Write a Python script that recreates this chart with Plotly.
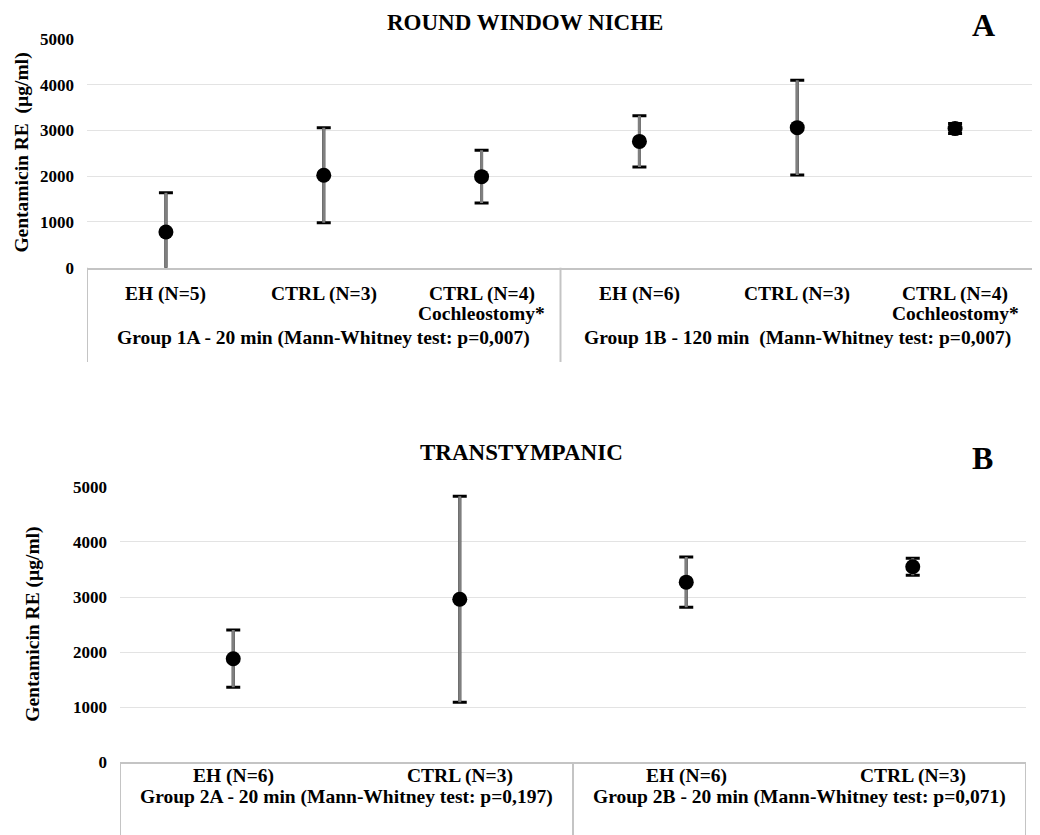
import plotly.graph_objects as go

# ---------------- data ----------------
# Panel A: Round window niche
a_categories = ["EH (N=5)", "CTRL (N=3)", "CTRL (N=4)", "EH (N=6)", "CTRL (N=3)", "CTRL (N=4)"]
a_sublabels = ["", "", "Cochleostomy*", "", "", "Cochleostomy*"]
a_groups = ["Group 1A - 20 min (Mann-Whitney test: p=0,007)",
            "Group 1B - 120 min  (Mann-Whitney test: p=0,007)"]
a_group_index = [0, 0, 0, 1, 1, 1]
a_mean = [780, 2020, 1990, 2760, 3060, 3040]
a_sd = [860, 1040, 575, 560, 1035, 110]

# Panel B: Transtympanic
b_categories = ["EH (N=6)", "CTRL (N=3)", "EH (N=6)", "CTRL (N=3)"]
b_groups = ["Group 2A - 20 min (Mann-Whitney test: p=0,197)",
            "Group 2B - 20 min (Mann-Whitney test: p=0,071)"]
b_group_index = [0, 0, 1, 1]
b_mean = [1880, 2960, 3270, 3550]
b_sd = [520, 1870, 455, 155]

y_ticks = [0, 1000, 2000, 3000, 4000, 5000]

# ---------------- styling ----------------
SERIF = "Liberation Serif, Times New Roman, serif"
GRID = "#e3e3e3"
FRAME = "#c4c4c4"
STEM = "#7f7f7f"

fig = go.Figure()


def add_panel(xa, ya, cats, mean, sd, cap):
    xs = list(range(len(cats)))
    # black caps
    fig.add_trace(go.Scatter(
        x=xs, y=mean, mode="markers", xaxis=xa, yaxis=ya,
        marker=dict(color="rgba(0,0,0,0)", size=1),
        error_y=dict(type="data", array=sd, color="black", thickness=3, width=cap),
        showlegend=False, hoverinfo="skip"))
    # gray stems + markers
    fig.add_trace(go.Scatter(
        x=xs, y=mean, mode="markers", xaxis=xa, yaxis=ya,
        marker=dict(color="black", size=15, symbol="circle"),
        error_y=dict(type="data", array=sd, color=STEM, thickness=3, width=0),
        showlegend=False))


add_panel("x", "y", a_categories, a_mean, a_sd, 7)
add_panel("x2", "y2", b_categories, b_mean, b_sd, 7)

# The page body keeps an 8px margin.
OFF = 8
W, H = 1032, 840
VS, VO = 0.978, 8.0   # observed vertical mapping of the photographed page


def px_x(p):
    return (p - OFF) / W


def px_y(p):
    page = (p - VO) / VS
    return 1 - (page - OFF) / H


axis_common = dict(showgrid=False, zeroline=False, showticklabels=False,
                   ticks="", fixedrange=True)
yaxis_common = dict(tickvals=y_ticks, ticktext=[str(v) for v in y_ticks],
                    showgrid=True, gridcolor=GRID, gridwidth=1.3,
                    zeroline=False, showline=False, ticks="",
                    tickfont=dict(family=SERIF, size=17, color="black", weight="bold"),
                    ticklabelstandoff=12, range=[0, 5000])

A_BOTTOM, A_TOP = 266.7, 37.7
B_BOTTOM, B_TOP = 761.5, 486

fig.update_layout(
    width=W, height=H,
    margin=dict(l=0, r=0, t=0, b=0),
    paper_bgcolor="white", plot_bgcolor="white",
    xaxis=dict(domain=[px_x(87), px_x(1034)], range=[-0.5, len(a_categories) - 0.5],
               anchor="y", showline=True, linecolor=FRAME, linewidth=2, **axis_common),
    yaxis=dict(domain=[px_y(A_BOTTOM), px_y(A_TOP)], anchor="x", **yaxis_common),
    xaxis2=dict(domain=[px_x(120), px_x(1026)], range=[-0.5, len(b_categories) - 0.5],
                anchor="y2", showline=True, linecolor=FRAME, linewidth=2, **axis_common),
    yaxis2=dict(domain=[px_y(B_BOTTOM), px_y(B_TOP)], anchor="x2", **yaxis_common),
)

lab_font = dict(family=SERIF, size=19.5, color="black", weight="bold")
annotations = []
shapes = []


def ann(x, y, text, font, xref="paper", textangle=0):
    annotations.append(dict(x=x, y=y, xref=xref, yref="paper", text=text,
                            showarrow=False, font=font, xanchor="center",
                            yanchor="middle", textangle=textangle))


def table(xref, cats, subs, groups, gidx, y_axis_px, y_cat, y_sub, y_grp, y_line_bottom):
    for i, c in enumerate(cats):
        ann(i, px_y(y_cat), c, lab_font, xref=xref)
        if subs and subs[i]:
            ann(i, px_y(y_sub), subs[i], lab_font, xref=xref)
    for g, gl in enumerate(groups):
        members = [i for i, k in enumerate(gidx) if k == g]
        ann(sum(members) / len(members), px_y(y_grp), gl, lab_font, xref=xref)
    bounds = [-0.5]
    for g in range(len(groups)):
        members = [i for i, k in enumerate(gidx) if k == g]
        bounds.append(max(members) + 0.5)
    for b in bounds:
        shapes.append(dict(type="line", xref=xref, yref="paper", x0=b, x1=b,
                           y0=px_y(y_axis_px), y1=max(px_y(y_line_bottom), 0),
                           line=dict(color=FRAME, width=2)))


table("x", a_categories, a_sublabels, a_groups, a_group_index, A_BOTTOM, 293, 313, 337, 361)
table("x2", b_categories, None, b_groups, b_group_index, B_BOTTOM, 775, None, 796, 840)

title_font = dict(family=SERIF, size=23, color="black", weight="bold")
letter_font = dict(family=SERIF, size=32, color="black", weight="bold")
ytitle_font = dict(family=SERIF, size=19.5, color="black", weight="bold")

ann(px_x(525), px_y(21), "ROUND WINDOW NICHE", title_font)
ann(px_x(521), px_y(452), "TRANSTYMPANIC", title_font)
ann(px_x(983), px_y(24), "A", letter_font)
ann(px_x(982), px_y(457), "B", letter_font)
ann(px_x(22.5), px_y(152), "Gentamicin RE  (µg/ml)", ytitle_font, textangle=-90)
ann(px_x(33), px_y(624), "Gentamicin RE (µg/ml)", ytitle_font, textangle=-90)

fig.update_layout(annotations=annotations, shapes=shapes)

fig.write_html("out.html", config={"displayModeBar": False})
